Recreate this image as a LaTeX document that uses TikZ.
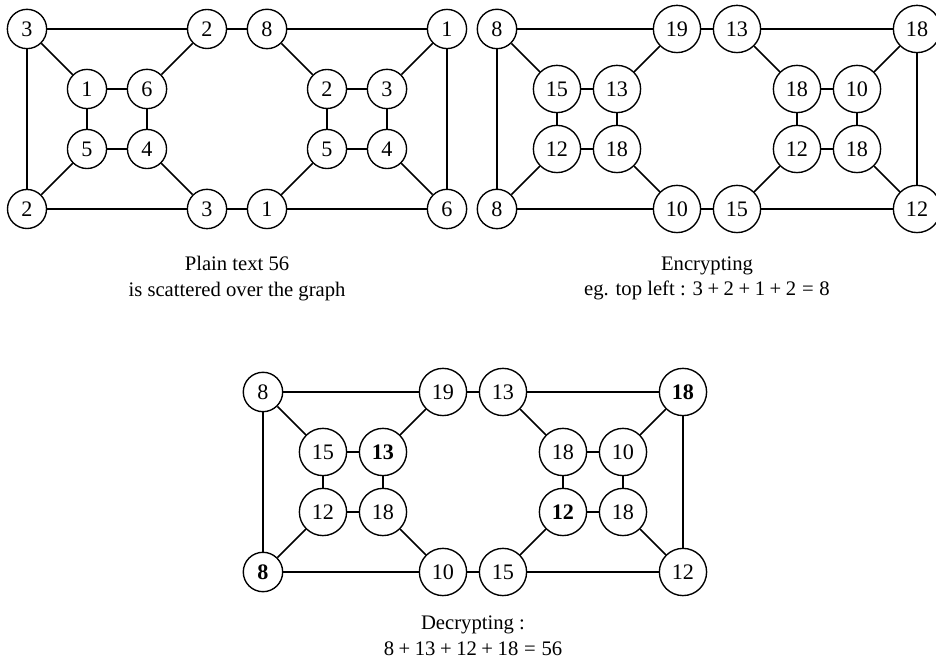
\documentclass[tikz,border=0pt]{standalone}
\usepackage{fontspec}
\setmainfont{Liberation Serif}
\usetikzlibrary{positioning}
\newcommand{\plusop}{\hspace{0.22em}+\hspace{0.22em}}
\newcommand{\eqop}{\hspace{0.28em}=\hspace{0.28em}}

\begin{document}
\begin{tikzpicture}[-,line width=0.7pt,
                    main node/.style={circle,draw,line width=0.65pt,inner sep=3.5pt,font=\fontsize{10.5}{12}\selectfont},
                    caption/.style={align=center,font=\fontsize{9.8}{12.3}\selectfont}]
  \useasboundingbox (0,0) rectangle (15.6,-11.067);

  % plain text
  \begin{scope}[shift={(0.45,-0.483)}]
    \foreach \n/\x/\y/\t in {tl/0/0/3, ta/3/0/2, tb/4/0/8, tr/7/0/1,
                             bl/0/3/2, ba/3/3/3, bb/4/3/1, br/7/3/6,
                             la/1/1/1, lb/2/1/6, lc/1/2/5, ld/2/2/4,
                             ra/5/1/2, rb/6/1/3, rc/5/2/5, rd/6/2/4}
      \node[main node] (p-\n) at (\x,-\y) {\t};
  \end{scope}

  % encrypted
  \begin{scope}[shift={(8.283,-0.483)}]
    \foreach \n/\x/\y/\t in {tl/0/0/8, ta/3/0/19, tb/4/0/13, tr/7/0/18,
                             bl/0/3/8, ba/3/3/10, bb/4/3/15, br/7/3/12,
                             la/1/1/15, lb/2/1/13, lc/1/2/12, ld/2/2/18,
                             ra/5/1/18, rb/6/1/10, rc/5/2/12, rd/6/2/18}
      \node[main node] (e-\n) at (\x,-\y) {\t};
  \end{scope}

  % decrypted
  \begin{scope}[shift={(4.383,-6.533)}]
    \foreach \n/\x/\y/\t in {tl/0/0/8, ta/3/0/19, tb/4/0/13, tr/7/0/\textbf{18},
                             bl/0/3/\textbf{8}, ba/3/3/10, bb/4/3/15, br/7/3/12,
                             la/1/1/15, lb/2/1/\textbf{13}, lc/1/2/12, ld/2/2/18,
                             ra/5/1/18, rb/6/1/10, rc/5/2/\textbf{12}, rd/6/2/18}
      \node[main node] (d-\n) at (\x,-\y) {\t};
  \end{scope}

  \foreach \g in {p,e,d}{
    \path (\g-tl) edge (\g-ta) edge (\g-bl) edge (\g-la)
          (\g-ta) edge (\g-tb) edge (\g-lb)
          (\g-tb) edge (\g-tr) edge (\g-ra)
          (\g-tr) edge (\g-br) edge (\g-rb)
          (\g-bl) edge (\g-ba) edge (\g-lc)
          (\g-ba) edge (\g-bb) edge (\g-ld)
          (\g-bb) edge (\g-br) edge (\g-rc)
          (\g-br) edge (\g-rd)
          (\g-la) edge (\g-lb) edge (\g-lc)
          (\g-ld) edge (\g-lb) edge (\g-lc)
          (\g-ra) edge (\g-rb) edge (\g-rc)
          (\g-rd) edge (\g-rb) edge (\g-rc);
  }

  \node[caption] (pcap) at (3.95,-4.64) {Plain text 56\\is scattered over the graph};
  \node[caption] (ecap) at (11.783,-4.64) {Encrypting\\eg. top left : 3\plusop 2\plusop 1\plusop 2\eqop 8};
  \node[caption] (dcap) at (7.883,-10.6) {Decrypting :\\8\plusop 13\plusop 12\plusop 18\eqop 56};
\end{tikzpicture}
\end{document}
